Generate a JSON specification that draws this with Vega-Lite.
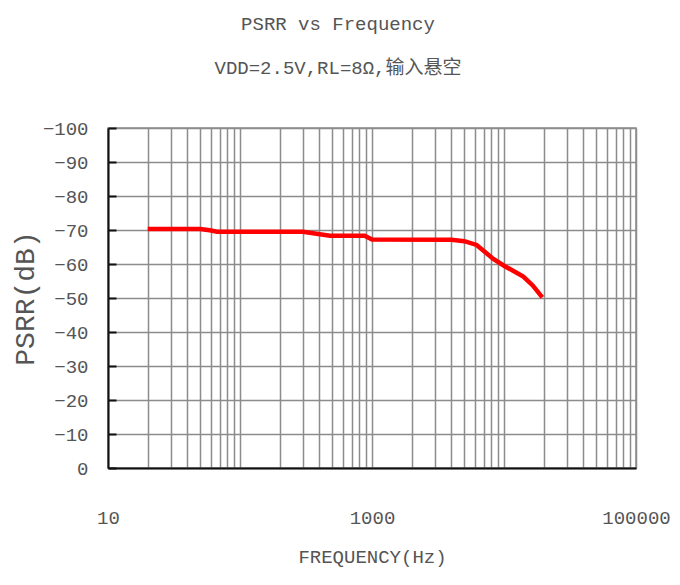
{
  "$schema": "https://vega.github.io/schema/vega-lite/v6.json",
  "width": 528,
  "height": 340,
  "autosize": "none",
  "padding": {"left": 108, "top": 128, "right": 44, "bottom": 117},
  "background": "white",
  "title": {
    "text": ["PSRR vs Frequency", "VDD=2.5V,RL=8Ω,输入悬空"],
    "anchor": "middle",
    "frame": "group",
    "dx": -34,
    "offset": 41,
    "font": "Liberation Mono, Noto Sans CJK SC",
    "fontSize": 19,
    "fontWeight": "normal",
    "color": "#555555",
    "lineHeight": 44
  },
  "config": {
    "view": {"stroke": "#8c8c8c", "strokeWidth": 1.5},
    "axis": {
      "labelFont": "Liberation Mono",
      "titleFont": "Liberation Mono",
      "labelColor": "#555555",
      "titleColor": "#555555",
      "titleFontWeight": "normal",
      "gridColor": "#8c8c8c",
      "gridWidth": 1.5,
      "gridOpacity": 1,
      "domainColor": "#111111",
      "domainWidth": 2,
      "ticks": false
    }
  },
  "data": {
    "values": [
      {"f": 20, "psrr": -70.3},
      {"f": 50, "psrr": -70.3},
      {"f": 59, "psrr": -69.9},
      {"f": 67, "psrr": -69.5},
      {"f": 300, "psrr": -69.5},
      {"f": 480, "psrr": -68.3},
      {"f": 880, "psrr": -68.3},
      {"f": 1000, "psrr": -67.2},
      {"f": 4000, "psrr": -67.1},
      {"f": 5000, "psrr": -66.7},
      {"f": 6200, "psrr": -65.6},
      {"f": 8300, "psrr": -61.5},
      {"f": 10000, "psrr": -59.5},
      {"f": 14000, "psrr": -56.3},
      {"f": 16500, "psrr": -53.7},
      {"f": 19500, "psrr": -50.2}
    ]
  },
  "mark": {"type": "line", "color": "#ff0000", "strokeWidth": 4.5, "clip": true},
  "encoding": {
    "x": {
      "field": "f",
      "type": "quantitative",
      "scale": {"type": "log", "domain": [10, 100000], "nice": false},
      "axis": {
        "values": [10,20,30,40,50,60,70,80,90,100,200,300,400,500,600,700,800,900,1000,2000,3000,4000,5000,6000,7000,8000,9000,10000,20000,30000,40000,50000,60000,70000,80000,90000,100000],
        "labelExpr": "indexof([10,1000,100000], datum.value) >= 0 ? format(datum.value, 'd') : ''",
        "labelOverlap": false,
        "labelFlush": false,
        "labelFontSize": 19,
        "labelPadding": 40,
        "title": "FREQUENCY(Hz)",
        "titleFontSize": 19,
        "titlePadding": 20
      }
    },
    "y": {
      "field": "psrr",
      "type": "quantitative",
      "scale": {"domain": [-100, 0], "reverse": true, "nice": false},
      "axis": {
        "values": [-100,-90,-80,-70,-60,-50,-40,-30,-20,-10,0],
        "ticks": true,
        "tickSize": -8,
        "tickColor": "#111111",
        "tickWidth": 2,
        "labelFontSize": 19,
        "labelPadding": 28,
        "title": "PSRR(dB)",
        "titleFontSize": 28,
        "titlePadding": 3
      }
    }
  }
}
